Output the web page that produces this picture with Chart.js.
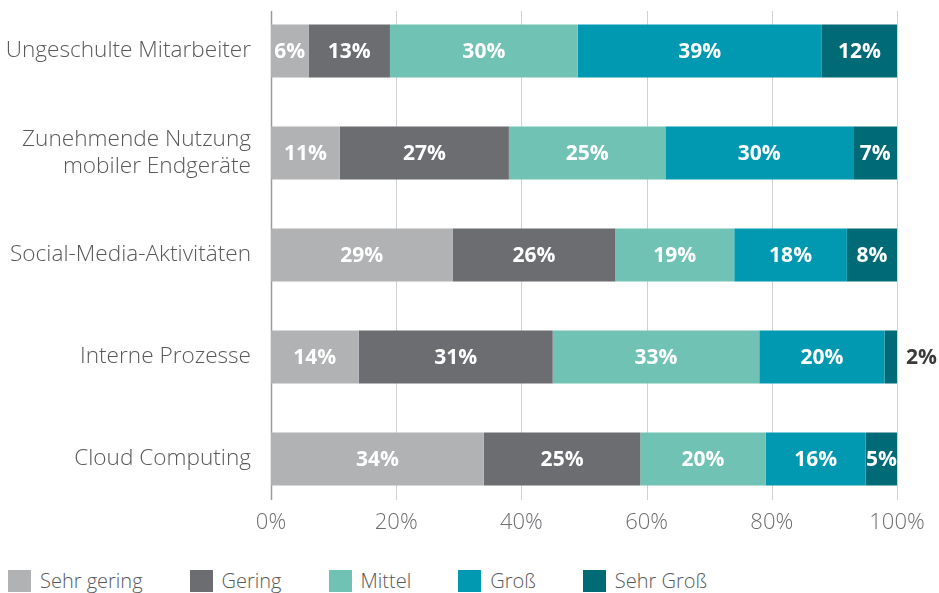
<!DOCTYPE html>
<html lang="de">
<head>
<meta charset="utf-8">
<title>Risikofaktoren</title>
<script src="https://cdn.jsdelivr.net/npm/chart.js@4/dist/chart.umd.min.js"></script>
<style>
  html, body { margin: 0; padding: 0; background: #fff; }
  #wrap { position: relative; width: 939px; height: 593px; }
  #chartBox { position: absolute; left: 0; top: 0; width: 939px; height: 550px; }
  #legend {
    position: absolute; left: 8px; top: 567px;
    display: flex; align-items: center;
    font-family: "Open Sans", sans-serif; font-weight: 300; font-size: 20px; color: #58595b;
  }
  #legend .item { display: flex; align-items: center; margin-right: 47px; }
  #legend .box { width: 23px; height: 22px; margin-right: 9px; }
</style>
</head>
<body>
<div id="wrap">
  <div id="chartBox"><canvas id="myChart"></canvas></div>
  <div id="legend"></div>
</div>
<script>
"use strict";

const categories = [
  "Ungeschulte Mitarbeiter",
  ["Zunehmende Nutzung", "mobiler Endgeräte"],
  "Social-Media-Aktivitäten",
  "Interne Prozesse",
  "Cloud Computing"
];
const seriesNames = ["Sehr gering", "Gering", "Mittel", "Groß", "Sehr Groß"];
const sehrGering = [6, 11, 29, 14, 34];
const gering = [13, 27, 26, 31, 25];
const mittel = [30, 25, 19, 33, 20];
const gross = [39, 30, 18, 20, 16];
const sehrGross = [12, 7, 8, 2, 5];
const xTicks = [0, 20, 40, 60, 80, 100];
const colors = ["#b1b2b4", "#6b6d71", "#70c2b4", "#0099b1", "#006b77"];

const FONT = "'Open Sans', sans-serif";

// vertical grid lines, a bit shorter than the plot area
const gridLines = {
  id: "gridLines",
  beforeDatasetsDraw(chart) {
    const ctx = chart.ctx;
    const xs = chart.scales.x;
    const area = chart.chartArea;
    ctx.save();
    xTicks.forEach(t => {
      const x = Math.round(xs.getPixelForValue(t)) + 0.5;
      ctx.strokeStyle = t === 0 ? "#9a9b9d" : "#cfd0d1";
      ctx.lineWidth = t === 0 ? 1.5 : 1;
      ctx.beginPath();
      ctx.moveTo(x, area.top + 11);
      ctx.lineTo(x, area.bottom - 10);
      ctx.stroke();
    });
    ctx.restore();
  }
};

// percentage labels inside the segments (small ones go right of the bar)
const valueLabels = {
  id: "valueLabels",
  afterDatasetsDraw(chart) {
    const ctx = chart.ctx;
    ctx.save();
    ctx.font = "bold 21px " + FONT;
    ctx.textBaseline = "middle";
    chart.data.datasets.forEach((ds, i) => {
      const meta = chart.getDatasetMeta(i);
      meta.data.forEach((bar, j) => {
        const v = ds.data[j];
        const txt = v + "%";
        if (v < 4) {
          ctx.fillStyle = "#3b3b3d";
          ctx.textAlign = "left";
          ctx.fillText(txt, bar.x + 9, bar.y + 1);
        } else {
          ctx.fillStyle = "#ffffff";
          ctx.textAlign = "center";
          ctx.fillText(txt, (bar.x + bar.base) / 2, bar.y + 1);
        }
      });
    });
    ctx.restore();
  }
};

function makeChart() {
  const seriesData = [sehrGering, gering, mittel, gross, sehrGross];
  const datasets = seriesNames.map((name, i) => ({
    label: name,
    data: seriesData[i],
    backgroundColor: colors[i],
    borderWidth: 0,
    barPercentage: 0.52,
    categoryPercentage: 1.0
  }));

  const ctx = document.getElementById("myChart");
  const chart = new Chart(ctx, {
    type: "bar",
    data: { labels: categories, datasets: datasets },
    options: {
      indexAxis: "y",
      responsive: true,
      maintainAspectRatio: false,
      animation: false,
      layout: { padding: { top: 0, right: 42, left: 0, bottom: 0 } },
      plugins: {
        legend: { display: false },
        tooltip: { enabled: false }
      },
      scales: {
        x: {
          stacked: true,
          min: 0,
          max: 100,
          grid: { display: false, drawTicks: false },
          border: { display: false },
          ticks: {
            stepSize: 20,
            padding: 0,
            color: "#6d6e71",
            font: { family: FONT, size: 22, weight: 300 },
            callback: v => v + "%"
          },
          afterFit: s => { s.height = 40; }
        },
        y: {
          stacked: true,
          grid: { display: false, drawTicks: false },
          border: { display: false },
          ticks: {
            padding: 20,
            color: "#58595b",
            font: { family: FONT, size: 22.6, weight: 300, lineHeight: 1.2 }
          },
          afterFit: s => {
            s.width = 271;
            s.paddingTop = 0;
            s.paddingBottom = 0;
          }
        }
      }
    },
    plugins: [gridLines, valueLabels]
  });

  buildLegend(chart);
}

function buildLegend(chart) {
  const legend = document.getElementById("legend");
  chart.data.datasets.forEach(ds => {
    const item = document.createElement("div");
    item.className = "item";
    const box = document.createElement("span");
    box.className = "box";
    box.style.background = ds.backgroundColor;
    const text = document.createElement("span");
    text.textContent = ds.label;
    item.appendChild(box);
    item.appendChild(text);
    legend.appendChild(item);
  });
}

makeChart();
</script>
</body>
</html>
